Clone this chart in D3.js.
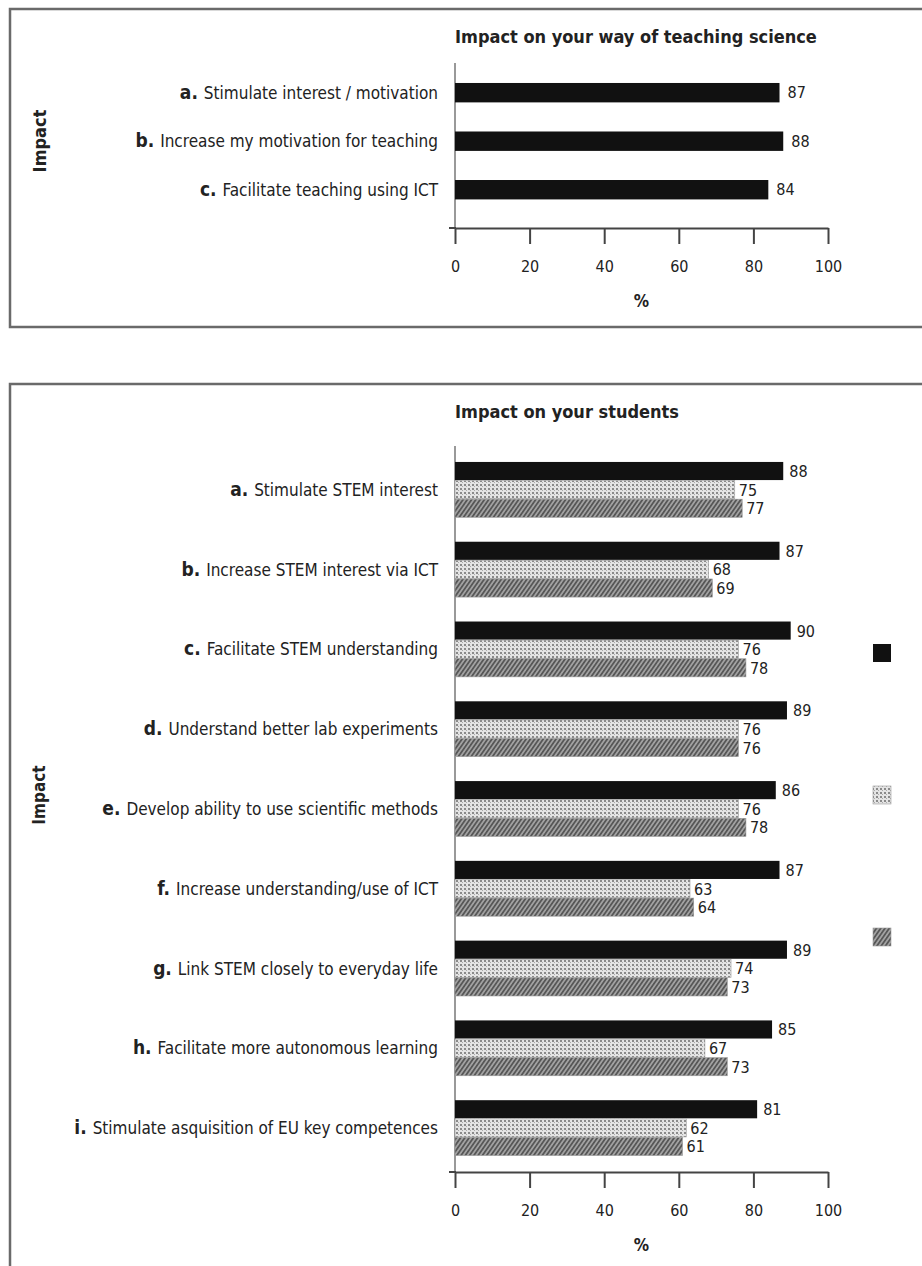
<!DOCTYPE html>
<html>
<head>
<meta charset="utf-8">
<script src="https://cdn.jsdelivr.net/npm/d3@7"></script>
<style>
  body { margin: 0; background: #fff; }
  text { font-family: "DejaVu Sans Condensed", "Liberation Sans Narrow", sans-serif; fill: #222; }
</style>
</head>
<body>
<div id="chart"></div>
<script>
// data
var topLetters = ["a.", "b.", "c."];
var topLabels = ["Stimulate interest / motivation", "Increase my motivation for teaching", "Facilitate teaching using ICT"];
var topValues = [87, 88, 84];

var bottomLetters = ["a.", "b.", "c.", "d.", "e.", "f.", "g.", "h.", "i."];
var bottomLabels = [
  "Stimulate STEM interest",
  "Increase STEM interest via ICT",
  "Facilitate STEM understanding",
  "Understand better lab experiments",
  "Develop ability to use scientific methods",
  "Increase understanding/use of ICT",
  "Link STEM closely to everyday life",
  "Facilitate more autonomous learning",
  "Stimulate asquisition of EU key competences"
];
var bottomBlack   = [88, 87, 90, 89, 86, 87, 89, 85, 81];
var bottomDotted  = [75, 68, 76, 76, 76, 63, 74, 67, 62];
var bottomHatched = [77, 69, 78, 76, 78, 64, 73, 73, 61];
var seriesKeys = ["black", "dotted", "hatched"];
var xTicks = [0, 20, 40, 60, 80, 100];

var svgWidth = 922;
var svgHeight = 1266;

var svg = d3.select("#chart")
  .append("svg")
  .attr("width", svgWidth)
  .attr("height", svgHeight);

// fill patterns for the grey series
var defs = svg.append("defs");
var dots = defs.append("pattern")
  .attr("id", "dots")
  .attr("width", 4).attr("height", 4)
  .attr("patternUnits", "userSpaceOnUse");
dots.append("rect").attr("width", 4).attr("height", 4).attr("fill", "#e4e4e4");
dots.append("rect").attr("x", 0).attr("y", 0).attr("width", 2).attr("height", 2).attr("fill", "#8a8a8a");
dots.append("rect").attr("x", 2).attr("y", 2).attr("width", 1).attr("height", 1).attr("fill", "#aaa");

var hatch = defs.append("pattern")
  .attr("id", "hatch")
  .attr("width", 3.5).attr("height", 3.5)
  .attr("patternUnits", "userSpaceOnUse")
  .attr("patternTransform", "rotate(35)");
hatch.append("rect").attr("width", 3.5).attr("height", 3.5).attr("fill", "#a4a4a4");
hatch.append("rect").attr("width", 1.8).attr("height", 3.5).attr("fill", "#575757");

var fills = { black: "#111", dotted: "url(#dots)", hatched: "url(#hatch)" };

// frames
svg.append("rect")
  .attr("x", 10).attr("y", 9)
  .attr("width", 930).attr("height", 318)
  .attr("fill", "none").attr("stroke", "#6a6a6a").attr("stroke-width", 2.5);
svg.append("rect")
  .attr("x", 10).attr("y", 384)
  .attr("width", 930).attr("height", 900)
  .attr("fill", "none").attr("stroke", "#6a6a6a").attr("stroke-width", 2.5);

var x = d3.scaleLinear().domain([0, 100]).range([455, 828]);

function drawAxes(g, titleY, yTop, yAxis, title, impactY, impactSize) {
  g.append("text")
    .attr("x", 455).attr("y", titleY)
    .attr("font-size", 18).attr("font-weight", "bold")
    .text(title);

  // vertical axis line
  g.append("line")
    .attr("x1", 455).attr("x2", 455)
    .attr("y1", yTop).attr("y2", yAxis)
    .attr("stroke", "#999").attr("stroke-width", 2);

  var axis = g.append("g")
    .attr("transform", "translate(0," + yAxis + ")")
    .call(d3.axisBottom(x).tickValues(xTicks).tickSize(16).tickSizeOuter(0));
  axis.select(".domain").attr("stroke", "#444").attr("stroke-width", 2);
  axis.selectAll(".tick line").attr("stroke", "#444").attr("stroke-width", 2);
  axis.selectAll(".tick text")
    .attr("y", 33)
    .attr("font-size", 16)
    .attr("font-family", "DejaVu Sans Condensed, sans-serif")
    .attr("fill", "#222");
  g.append("line")
    .attr("x1", 449).attr("x2", 456)
    .attr("y1", yAxis).attr("y2", yAxis)
    .attr("stroke", "#444").attr("stroke-width", 2);

  g.append("text")
    .attr("x", (x(0) + x(100)) / 2).attr("y", yAxis + 79)
    .attr("text-anchor", "middle")
    .attr("font-size", 17).attr("font-weight", "bold")
    .text("%");

  // rotated axis title, glyphs centred near x = 39
  g.append("text")
    .attr("transform", "translate(" + (39 + impactSize * 0.37) + "," + impactY + ") rotate(-90)")
    .attr("text-anchor", "middle")
    .attr("font-size", impactSize).attr("font-weight", "bold")
    .text("Impact");
}

function drawLabels(g, y, letters, labels) {
  var t = g.selectAll(".catLabel")
    .data(labels)
    .enter()
    .append("text")
    .attr("class", "catLabel")
    .attr("x", 438)
    .attr("y", (d, i) => y(i) + y.bandwidth() / 2)
    .attr("dy", "0.35em")
    .attr("text-anchor", "end")
    .attr("font-size", 17);
  t.append("tspan")
    .attr("font-weight", "bold")
    .attr("font-size", 19)
    .text((d, i) => letters[i] + " ");
  t.append("tspan").text(d => d);
}

// ---- top chart
var topG = svg.append("g");
var yTop = d3.scaleBand()
  .domain(d3.range(topValues.length))
  .range([66, 216.4])
  .paddingInner(0.6)
  .paddingOuter(0.35);

drawAxes(topG, 43, 63, 228, "Impact on your way of teaching science", 141, 18);
drawLabels(topG, yTop, topLetters, topLabels);

topG.selectAll(".bar")
  .data(topValues)
  .enter()
  .append("rect")
  .attr("class", "bar")
  .attr("x", x(0))
  .attr("y", (d, i) => yTop(i))
  .attr("width", d => x(d) - x(0))
  .attr("height", yTop.bandwidth())
  .attr("fill", fills.black);

topG.selectAll(".val")
  .data(topValues)
  .enter()
  .append("text")
  .attr("class", "val")
  .attr("x", d => x(d) + 8)
  .attr("y", (d, i) => yTop(i) + yTop.bandwidth() / 2)
  .attr("dy", "0.36em")
  .attr("font-size", 16)
  .text(d => d);

// ---- bottom chart
var botG = svg.append("g");
var yBot = d3.scaleBand()
  .domain(d3.range(bottomLabels.length))
  .range([446, 1172])
  .paddingInner(0.3)
  .paddingOuter(0.2);
var ySub = d3.scaleBand()
  .domain(seriesKeys)
  .range([0, yBot.bandwidth()]);

drawAxes(botG, 418, 446, 1172, "Impact on your students", 795, 17);
drawLabels(botG, yBot, bottomLetters, bottomLabels);

var rows = bottomLabels.map(function(d, i) {
  return [
    { key: "black", i: i, v: bottomBlack[i] },
    { key: "dotted", i: i, v: bottomDotted[i] },
    { key: "hatched", i: i, v: bottomHatched[i] }
  ];
});
var flat = d3.merge(rows);

botG.selectAll(".bar")
  .data(flat)
  .enter()
  .append("rect")
  .attr("class", "bar")
  .attr("x", x(0))
  .attr("y", d => yBot(d.i) + ySub(d.key))
  .attr("width", d => x(d.v) - x(0))
  .attr("height", ySub.bandwidth() - 0.5)
  .attr("fill", d => fills[d.key])
  .attr("stroke", d => d.key == "black" ? "none" : "#999")
  .attr("stroke-width", 0.6);

botG.selectAll(".val")
  .data(flat)
  .enter()
  .append("text")
  .attr("class", "val")
  .attr("x", d => x(d.v) + (d.key == "black" ? 6 : 4))
  .attr("y", d => yBot(d.i) + ySub(d.key) + ySub.bandwidth() / 2)
  .attr("dy", "0.36em")
  .attr("font-size", 16)
  .text(d => d.v);

// legend swatches (no text in the original)
var legendY = d3.scalePoint().domain(seriesKeys).range([653, 937]);
svg.selectAll(".swatch")
  .data(seriesKeys)
  .enter()
  .append("rect")
  .attr("class", "swatch")
  .attr("x", 873)
  .attr("y", d => legendY(d) - 9)
  .attr("width", 18).attr("height", 18)
  .attr("fill", d => fills[d])
  .attr("stroke", d => d == "black" ? "none" : "#999")
  .attr("stroke-width", 0.6);
</script>
</body>
</html>
